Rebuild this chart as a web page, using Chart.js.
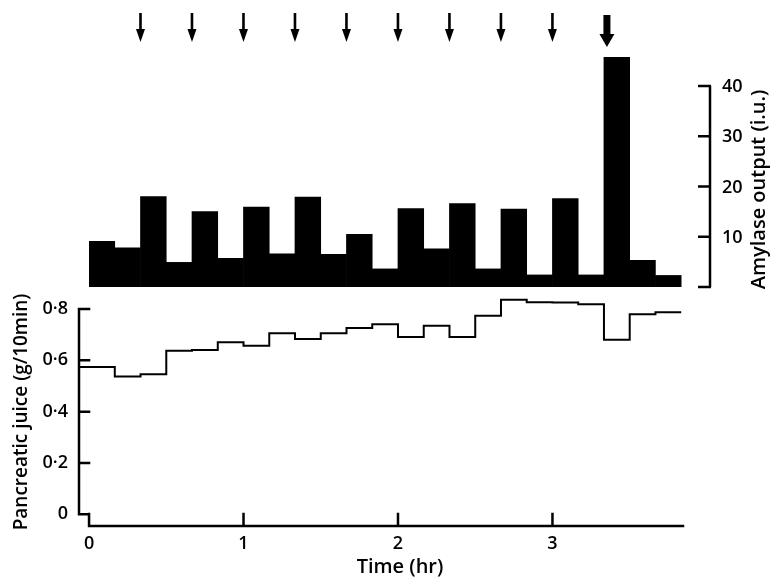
<!DOCTYPE html>
<html>
<head>
<meta charset="utf-8">
<script src="https://cdn.jsdelivr.net/npm/chart.js@4"></script>
<style>
  body { margin: 0; background: #fff; width: 774px; height: 578px; position: relative; overflow: hidden; }
  canvas { position: absolute; left: 0; }
  #amylase { top: 0; }
  #juice { top: 270px; }
</style>
</head>
<body>
<canvas id="amylase" width="774" height="295"></canvas>
<canvas id="juice" width="774" height="308"></canvas>
<script>
// Datos: un valor por cada periodo de 10 min
const periodMinutes = 10;
const amylaseOutput = [9.1, 7.8, 18.0, 4.9, 15.0, 5.7, 15.9, 6.6, 17.9, 6.5, 10.5, 3.6,
                       15.6, 7.6, 16.6, 3.6, 15.5, 2.4, 17.6, 2.4, 45.7, 5.3, 2.3];
const juiceFlow = [0.574, 0.537, 0.546, 0.637, 0.640, 0.670, 0.657, 0.706, 0.683, 0.706, 0.726, 0.741,
                   0.691, 0.735, 0.691, 0.774, 0.836, 0.826, 0.825, 0.819, 0.680, 0.780, 0.787];
// Momentos de estimulación (flechas), en minutos
const stimulusMinutes = [20, 40, 60, 80, 100, 120, 140, 160, 180];
const bigDoseMinutes = [200];
// Marcas de los ejes
const amylaseTicks = [0, 10, 20, 30, 40];
const juiceTicks = [0, 0.2, 0.4, 0.6, 0.8];
const timeTicks = [0, 1, 2, 3];

const FONT = "'Open Sans', 'DejaVu Sans', sans-serif";
Chart.defaults.font.family = FONT;
Chart.defaults.font.size = 18;
Chart.defaults.font.weight = '600';
Chart.defaults.color = '#000';

const toHours = m => m / 60;

// Quita el relleno que Chart.js añade por la mitad de las etiquetas
function fixAxis(size) {
    return s => {
        if (s.isHorizontal()) s.height = size; else s.width = size;
        s.paddingTop = 0; s.paddingBottom = 0; s.paddingLeft = 0; s.paddingRight = 0;
    };
}

// Dibuja una flecha vertical hacia abajo
function drawArrow(ctx, x, top, tip, shaftW, headW, headH) {
    ctx.fillRect(x - shaftW / 2, top, shaftW, tip - top - headH + 1);
    ctx.beginPath();
    ctx.moveTo(x - headW / 2, tip - headH);
    ctx.lineTo(x + headW / 2, tip - headH);
    ctx.lineTo(x, tip);
    ctx.closePath();
    ctx.fill();
}

// Eje derecho, etiquetas, flechas y título del panel de amilasa
const amylaseDecor = {
    id: 'amylaseDecor',
    afterDraw(chart) {
        const { ctx, chartArea, scales } = chart;
        const x = scales.x, y = scales.y;
        const ax = chartArea.right;
        ctx.save();
        ctx.strokeStyle = '#000';
        ctx.fillStyle = '#000';
        ctx.lineWidth = 2.5;
        ctx.beginPath();
        ctx.moveTo(ax, y.getPixelForValue(amylaseTicks[amylaseTicks.length - 1]));
        ctx.lineTo(ax, y.getPixelForValue(0));
        amylaseTicks.forEach(v => {
            const py = y.getPixelForValue(v);
            ctx.moveTo(ax + 1, py);
            ctx.lineTo(ax - 12, py);
        });
        ctx.stroke();

        ctx.font = `600 18px ${FONT}`;
        ctx.textAlign = 'left';
        ctx.textBaseline = 'middle';
        amylaseTicks.filter(v => v > 0).forEach(v => {
            ctx.fillText(String(v), ax + 12, y.getPixelForValue(v) + 1);
        });

        stimulusMinutes.forEach(m => {
            drawArrow(ctx, x.getPixelForValue(toHours(m)), chartArea.top + 1, chartArea.top + 30, 2.6, 9, 13);
        });
        bigDoseMinutes.forEach(m => {
            drawArrow(ctx, x.getPixelForValue(toHours(m)) + 3, chartArea.top + 3, chartArea.top + 35, 7, 15, 13);
        });

        const midY = (y.getPixelForValue(0) + y.getPixelForValue(40)) / 2 + 3;
        ctx.translate(759, midY);
        ctx.rotate(-Math.PI / 2);
        ctx.font = `600 20px ${FONT}`;
        ctx.textAlign = 'center';
        ctx.fillText('Amylase output (i.u.)', 0, 0);
        ctx.restore();
    }
};

// Ejes con marcas hacia dentro y título del tiempo
const juiceDecor = {
    id: 'juiceDecor',
    afterDraw(chart) {
        const { ctx, chartArea, scales } = chart;
        const x = scales.x, y = scales.y;
        ctx.save();
        ctx.strokeStyle = '#000';
        ctx.fillStyle = '#000';
        ctx.lineWidth = 2.5;
        ctx.lineCap = 'square';
        ctx.beginPath();
        ctx.moveTo(chartArea.left, y.getPixelForValue(juiceTicks[juiceTicks.length - 1]));
        ctx.lineTo(chartArea.left, y.getPixelForValue(0));
        juiceTicks.forEach(v => {
            const py = y.getPixelForValue(v);
            ctx.moveTo(chartArea.left, py);
            ctx.lineTo(x.getPixelForValue(0), py);
        });
        ctx.moveTo(x.getPixelForValue(0), chartArea.bottom);
        ctx.lineTo(chartArea.right, chartArea.bottom);
        timeTicks.forEach(t => {
            const px = x.getPixelForValue(t);
            ctx.moveTo(px, chartArea.bottom);
            ctx.lineTo(px, chartArea.bottom - 12);
        });
        ctx.stroke();

        ctx.font = `600 20px ${FONT}`;
        ctx.textAlign = 'center';
        ctx.textBaseline = 'alphabetic';
        ctx.fillText('Time (hr)', x.getPixelForValue(2) + 2, chart.height - 5);
        ctx.restore();
    }
};

// Panel superior: barras de amilasa
const topXMax = 4.02;
new Chart(document.getElementById('amylase').getContext('2d'), {
    type: 'bar',
    data: {
        datasets: [{
            label: 'Amylase output',
            data: amylaseOutput.map((v, i) => ({ x: toHours((i + 0.5) * periodMinutes), y: v })),
            backgroundColor: '#000',
            borderWidth: 0,
            barPercentage: 1,
            categoryPercentage: 1
        }]
    },
    options: {
        responsive: false,
        animation: false,
        layout: { padding: { left: 89, top: 12, bottom: 8, right: 0 } },
        plugins: { legend: { display: false }, tooltip: { enabled: false } },
        scales: {
            x: { type: 'linear', min: 0, max: topXMax, offset: false, display: false },
            y: {
                position: 'right',
                min: 0,
                max: 54.7,
                grid: { display: false, drawTicks: false },
                border: { display: false },
                afterBuildTicks: s => { s.ticks = amylaseTicks.map(v => ({ value: v })); },
                afterFit: fixAxis(64),
                ticks: { display: false }
            }
        }
    },
    plugins: [amylaseDecor]
});

// Panel inferior: flujo de jugo pancreático (escalones)
const bottomXMin = -0.065;
const bottomXMax = 3.845;
const juicePoints = [{ x: bottomXMin, y: juiceFlow[0] }]
    .concat(juiceFlow.map((v, i) => ({ x: toHours(i * periodMinutes), y: v })))
    .concat([{ x: toHours(juiceFlow.length * periodMinutes), y: juiceFlow[juiceFlow.length - 1] }]);

new Chart(document.getElementById('juice').getContext('2d'), {
    type: 'line',
    data: {
        datasets: [{
            label: 'Pancreatic juice',
            data: juicePoints,
            stepped: 'before',
            borderColor: '#000',
            borderWidth: 2,
            pointRadius: 0,
            fill: false
        }]
    },
    options: {
        responsive: false,
        animation: false,
        layout: { padding: { left: 0, top: 28, bottom: 0, right: 91 } },
        plugins: { legend: { display: false }, tooltip: { enabled: false } },
        scales: {
            x: {
                type: 'linear',
                min: bottomXMin,
                max: bottomXMax,
                grid: { display: false, drawTicks: false },
                border: { display: false },
                afterBuildTicks: s => { s.ticks = timeTicks.map(v => ({ value: v })); },
                afterFit: fixAxis(52),
                ticks: { padding: 7, maxRotation: 0 }
            },
            y: {
                min: -0.0456,
                max: 0.8429,
                grid: { display: false, drawTicks: false },
                border: { display: false },
                afterBuildTicks: s => { s.ticks = juiceTicks.map(v => ({ value: v })); },
                afterFit: fixAxis(79),
                ticks: {
                    padding: 11,
                    callback: v => (v === 0 ? '0' : v.toFixed(1).replace('.', '·'))
                },
                title: {
                    display: true,
                    text: 'Pancreatic juice (g/10min)',
                    font: { size: 19, weight: '600' },
                    padding: { top: 10, bottom: 0 }
                }
            }
        }
    },
    plugins: [juiceDecor]
});
</script>
</body>
</html>
